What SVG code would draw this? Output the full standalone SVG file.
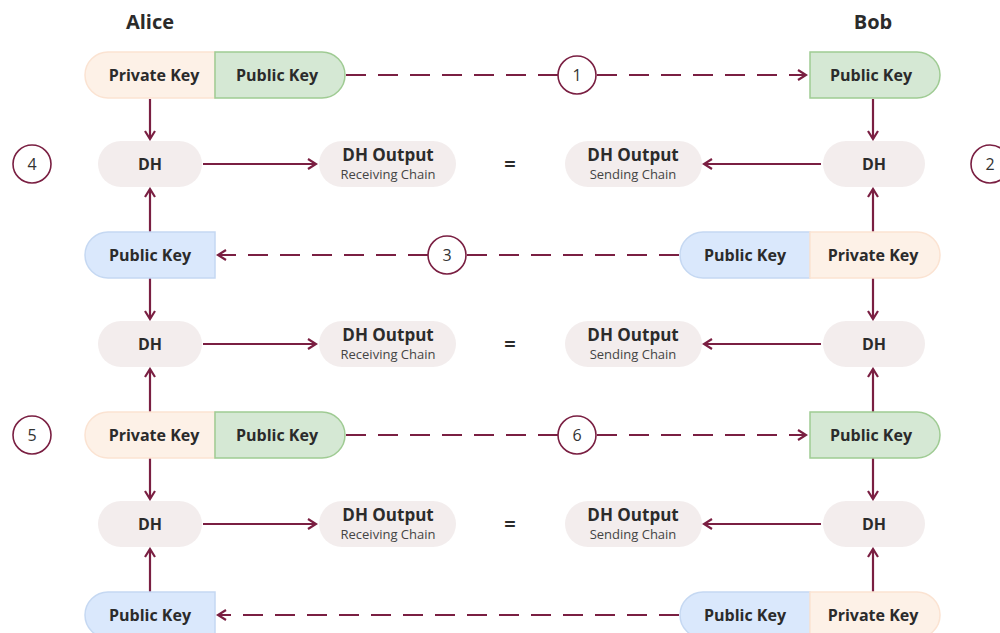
<svg xmlns="http://www.w3.org/2000/svg" width="1000" height="633" viewBox="0 0 1000 633">
<defs>
<style>
text{font-family:"Open Sans","Liberation Sans",sans-serif;fill:#2b2b2b;text-anchor:middle}
.lbl{font-size:16px;font-weight:700}
.out{font-size:17px;font-weight:700}
.sub{font-size:13px;font-weight:400;fill:#444}
.eq{font-size:20px;font-weight:700}
.name{font-size:20px;font-weight:700}
.num{font-size:16px;font-weight:400;fill:#333}
.priv{fill:#fdf1e7;stroke:#fbe3d2;stroke-width:1.5}
.pubg{fill:#d5e8d4;stroke:#9fcb93;stroke-width:1.5}
.pubb{fill:#dae8fc;stroke:#c5d8f2;stroke-width:1.5}
.dh{fill:#f3eded}
.ln{stroke:#7a1f42;stroke-width:2.2;fill:none}
.dash{stroke-dasharray:20,12}
.circ{fill:#fff;stroke:#7a1f42;stroke-width:1.6}
</style>
<marker id="ah" viewBox="0 0 12 12" refX="10" refY="6" markerWidth="12" markerHeight="12" markerUnits="userSpaceOnUse" orient="auto">
<path d="M2,1 L10,6 L2,11" fill="none" stroke="#7a1f42" stroke-width="2.2"/>
</marker>
</defs>
<rect width="1000" height="633" fill="#fff"/>
<text class="name" x="150" y="29">Alice</text>
<text class="name" x="873" y="29">Bob</text>

<g id="connectors">
<line class="ln" x1="150" y1="99" x2="150" y2="139" marker-end="url(#ah)"/>
<line class="ln" x1="150" y1="232" x2="150" y2="189" marker-end="url(#ah)"/>
<line class="ln" x1="150" y1="278" x2="150" y2="319" marker-end="url(#ah)"/>
<line class="ln" x1="150" y1="412" x2="150" y2="369" marker-end="url(#ah)"/>
<line class="ln" x1="150" y1="458" x2="150" y2="499" marker-end="url(#ah)"/>
<line class="ln" x1="150" y1="592" x2="150" y2="549" marker-end="url(#ah)"/>
<line class="ln" x1="873" y1="99" x2="873" y2="139" marker-end="url(#ah)"/>
<line class="ln" x1="873" y1="232" x2="873" y2="189" marker-end="url(#ah)"/>
<line class="ln" x1="873" y1="278" x2="873" y2="319" marker-end="url(#ah)"/>
<line class="ln" x1="873" y1="412" x2="873" y2="369" marker-end="url(#ah)"/>
<line class="ln" x1="873" y1="458" x2="873" y2="499" marker-end="url(#ah)"/>
<line class="ln" x1="873" y1="592" x2="873" y2="549" marker-end="url(#ah)"/>
<line class="ln" x1="203" y1="164" x2="316" y2="164" marker-end="url(#ah)"/>
<line class="ln" x1="203" y1="344" x2="316" y2="344" marker-end="url(#ah)"/>
<line class="ln" x1="203" y1="524" x2="316" y2="524" marker-end="url(#ah)"/>
<line class="ln" x1="821" y1="164" x2="704" y2="164" marker-end="url(#ah)"/>
<line class="ln" x1="821" y1="344" x2="704" y2="344" marker-end="url(#ah)"/>
<line class="ln" x1="821" y1="524" x2="704" y2="524" marker-end="url(#ah)"/>
<line class="ln dash" x1="346" y1="75" x2="558" y2="75"/>
<line class="ln dash" x1="597" y1="75" x2="806" y2="75" marker-end="url(#ah)"/>
<line class="ln dash" x1="679" y1="255" x2="466" y2="255"/>
<line class="ln dash" x1="428" y1="255" x2="218" y2="255" marker-end="url(#ah)"/>
<line class="ln dash" x1="346" y1="435" x2="558" y2="435"/>
<line class="ln dash" x1="597" y1="435" x2="806" y2="435" marker-end="url(#ah)"/>
<line class="ln dash" x1="679" y1="615" x2="218" y2="615" marker-end="url(#ah)"/>
</g>

<g id="alice-keys-1">
<path class="priv" d="M215,52 H108 A23,23 0 0 0 108,98 H215 Z"/>
<path class="pubg" d="M215,52 H322 A23,23 0 0 1 322,98 H215 Z"/>
<text class="lbl" x="154" y="81">Private Key</text>
<text class="lbl" x="277" y="81">Public Key</text>
</g>
<g id="bob-pub-1">
<path class="pubg" d="M810,52 H917 A23,23 0 0 1 917,98 H810 Z"/>
<text class="lbl" x="871" y="81">Public Key</text>
</g>
<g id="step1"><circle class="circ" cx="577" cy="75" r="19"/><text class="num" x="577" y="81">1</text></g>

<g id="alice-dh-1"><rect class="dh" x="98" y="141" width="104" height="46" rx="23"/><text class="lbl" x="150" y="170">DH</text></g>
<g id="alice-out-1"><rect class="dh" x="319" y="141" width="137" height="46" rx="23"/><text class="out" x="388" y="161">DH Output</text><text class="sub" x="388" y="179">Receiving Chain</text></g>
<text class="eq" x="510" y="171">=</text>
<g id="bob-out-1"><rect class="dh" x="565" y="141" width="137" height="46" rx="23"/><text class="out" x="633" y="161">DH Output</text><text class="sub" x="633" y="179">Sending Chain</text></g>
<g id="bob-dh-1"><rect class="dh" x="823" y="141" width="102" height="46" rx="23"/><text class="lbl" x="874" y="170">DH</text></g>
<g id="step4"><circle class="circ" cx="32" cy="164" r="19"/><text class="num" x="32" y="170">4</text></g>
<g id="step2"><circle class="circ" cx="990" cy="164" r="19"/><text class="num" x="990" y="170">2</text></g>

<g id="alice-pub-2">
<path class="pubb" d="M215,232 H108 A23,23 0 0 0 108,278 H215 Z"/>
<text class="lbl" x="150" y="261">Public Key</text>
</g>
<g id="bob-keys-2">
<path class="pubb" d="M810,232 H703 A23,23 0 0 0 703,278 H810 Z"/>
<path class="priv" d="M810,232 H917 A23,23 0 0 1 917,278 H810 Z"/>
<text class="lbl" x="745" y="261">Public Key</text>
<text class="lbl" x="873" y="261">Private Key</text>
</g>
<g id="step3"><circle class="circ" cx="447" cy="255" r="19"/><text class="num" x="447" y="261">3</text></g>

<g id="alice-dh-2"><rect class="dh" x="98" y="321" width="104" height="46" rx="23"/><text class="lbl" x="150" y="350">DH</text></g>
<g id="alice-out-2"><rect class="dh" x="319" y="321" width="137" height="46" rx="23"/><text class="out" x="388" y="341">DH Output</text><text class="sub" x="388" y="359">Receiving Chain</text></g>
<text class="eq" x="510" y="351">=</text>
<g id="bob-out-2"><rect class="dh" x="565" y="321" width="137" height="46" rx="23"/><text class="out" x="633" y="341">DH Output</text><text class="sub" x="633" y="359">Sending Chain</text></g>
<g id="bob-dh-2"><rect class="dh" x="823" y="321" width="102" height="46" rx="23"/><text class="lbl" x="874" y="350">DH</text></g>

<g id="alice-keys-3">
<path class="priv" d="M215,412 H108 A23,23 0 0 0 108,458 H215 Z"/>
<path class="pubg" d="M215,412 H322 A23,23 0 0 1 322,458 H215 Z"/>
<text class="lbl" x="154" y="441">Private Key</text>
<text class="lbl" x="277" y="441">Public Key</text>
</g>
<g id="bob-pub-3">
<path class="pubg" d="M810,412 H917 A23,23 0 0 1 917,458 H810 Z"/>
<text class="lbl" x="871" y="441">Public Key</text>
</g>
<g id="step5"><circle class="circ" cx="32" cy="435" r="19"/><text class="num" x="32" y="441">5</text></g>
<g id="step6"><circle class="circ" cx="577" cy="435" r="19"/><text class="num" x="577" y="441">6</text></g>

<g id="alice-dh-3"><rect class="dh" x="98" y="501" width="104" height="46" rx="23"/><text class="lbl" x="150" y="530">DH</text></g>
<g id="alice-out-3"><rect class="dh" x="319" y="501" width="137" height="46" rx="23"/><text class="out" x="388" y="521">DH Output</text><text class="sub" x="388" y="539">Receiving Chain</text></g>
<text class="eq" x="510" y="531">=</text>
<g id="bob-out-3"><rect class="dh" x="565" y="501" width="137" height="46" rx="23"/><text class="out" x="633" y="521">DH Output</text><text class="sub" x="633" y="539">Sending Chain</text></g>
<g id="bob-dh-3"><rect class="dh" x="823" y="501" width="102" height="46" rx="23"/><text class="lbl" x="874" y="530">DH</text></g>

<g id="alice-pub-4">
<path class="pubb" d="M215,592 H108 A23,23 0 0 0 108,638 H215 Z"/>
<text class="lbl" x="150" y="621">Public Key</text>
</g>
<g id="bob-keys-4">
<path class="pubb" d="M810,592 H703 A23,23 0 0 0 703,638 H810 Z"/>
<path class="priv" d="M810,592 H917 A23,23 0 0 1 917,638 H810 Z"/>
<text class="lbl" x="745" y="621">Public Key</text>
<text class="lbl" x="873" y="621">Private Key</text>
</g>
</svg>
